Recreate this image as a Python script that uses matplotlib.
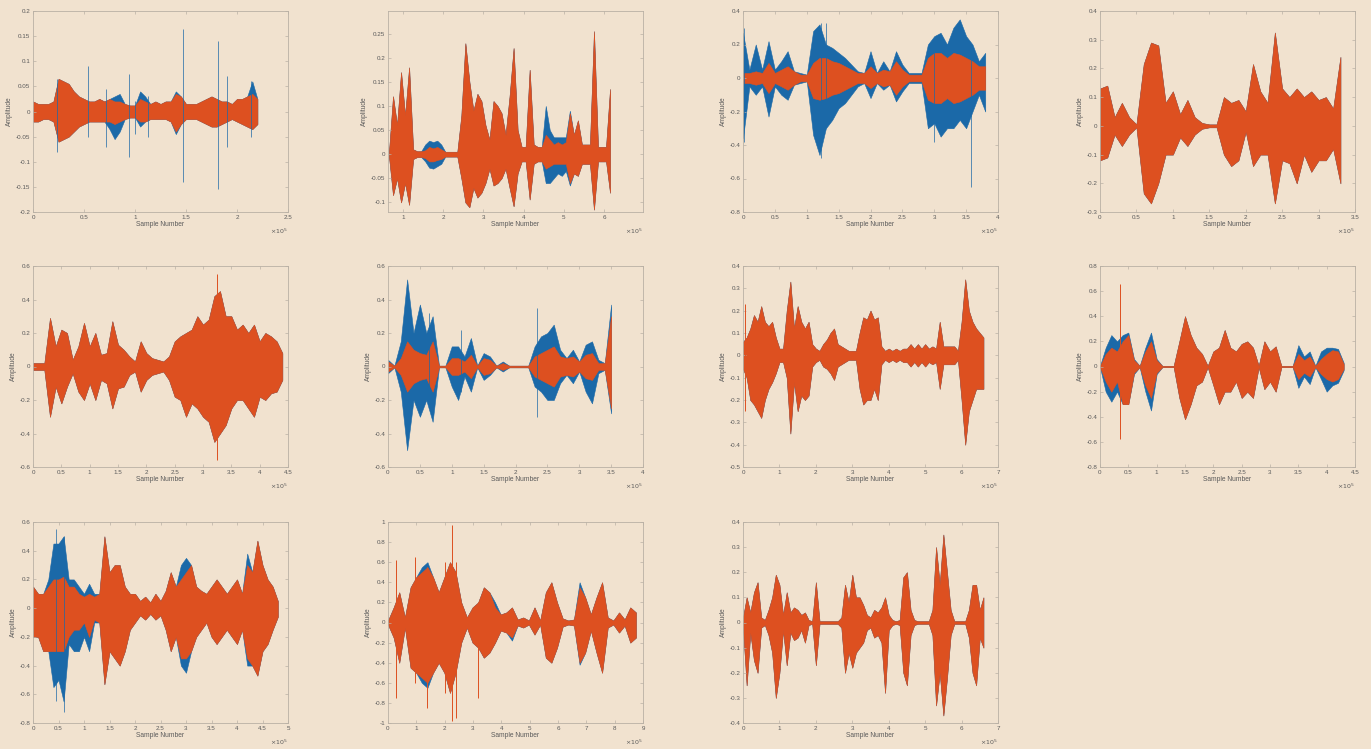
import numpy as np
import matplotlib
matplotlib.use('Agg')
import matplotlib.pyplot as plt

# envelopes: upper (hi) and lower magnitude (lo), x in 1e5 samples
span1 = (0, 2.2)
hi1 = [0.02, 0.015, 0.015, 0.015, 0.02, 0.065, 0.06, 0.055, 0.04, 0.03,
       0.025, 0.02, 0.02, 0.025, 0.02, 0.025, 0.02, 0.02, 0.015, 0.012,
       0.012, 0.025, 0.02, 0.015, 0.02, 0.015, 0.02, 0.02, 0.035, 0.03,
       0.015, 0.015, 0.015, 0.02, 0.025, 0.03, 0.025, 0.02, 0.02, 0.015,
       0.025, 0.025, 0.03, 0.035, 0.025]
lo1 = [0.02, 0.02, 0.015, 0.015, 0.02, 0.06, 0.055, 0.05, 0.04, 0.03,
       0.025, 0.02, 0.02, 0.02, 0.02, 0.02, 0.025, 0.02, 0.015, 0.012,
       0.012, 0.02, 0.02, 0.015, 0.015, 0.015, 0.015, 0.02, 0.04, 0.025,
       0.015, 0.015, 0.015, 0.02, 0.025, 0.03, 0.03, 0.025, 0.02, 0.015,
       0.02, 0.025, 0.03, 0.035, 0.025]
bhi1 = [0.02, 0.015, 0.015, 0.015, 0.02, 0.065, 0.06, 0.055, 0.04, 0.03,
        0.025, 0.02, 0.02, 0.025, 0.02, 0.025, 0.03, 0.035, 0.015, 0.012,
        0.012, 0.04, 0.03, 0.015, 0.02, 0.015, 0.02, 0.02, 0.04, 0.03,
        0.015, 0.015, 0.015, 0.02, 0.025, 0.03, 0.025, 0.02, 0.02, 0.015,
        0.025, 0.025, 0.03, 0.06, 0.025]
blo1 = [0.02, 0.02, 0.015, 0.015, 0.02, 0.06, 0.055, 0.05, 0.04, 0.03,
        0.025, 0.02, 0.02, 0.02, 0.02, 0.035, 0.055, 0.04, 0.015, 0.012,
        0.012, 0.03, 0.02, 0.015, 0.015, 0.015, 0.015, 0.02, 0.045, 0.025,
        0.015, 0.015, 0.015, 0.02, 0.025, 0.03, 0.03, 0.025, 0.02, 0.015,
        0.02, 0.025, 0.03, 0.035, 0.025]
spx1 = [0.24, 0.54, 0.72, 0.94, 1.0, 1.13, 1.47, 1.81, 1.9, 2.14]
sphi1 = [0.065, 0.09, 0.045, 0.075, 0.02, 0.03, 0.165, 0.14, 0.07, 0.06]
splo1 = [-0.08, -0.05, -0.07, -0.09, -0.045, -0.05, -0.14, -0.155, -0.07, -0.05]

span2 = (0.65, 6.15)
hi2 = [0.005, 0.12, 0.06, 0.17, 0.08, 0.18, 0.01, 0.006, 0.006, 0.008,
       0.015, 0.012, 0.015, 0.01, 0.005, 0.005, 0.005, 0.005, 0.08, 0.23,
       0.15, 0.09, 0.125, 0.11, 0.06, 0.03, 0.11, 0.1, 0.085, 0.04,
       0.12, 0.22, 0.05, 0.015, 0.015, 0.175, 0.02, 0.015, 0.015, 0.04,
       0.03, 0.02, 0.025, 0.02, 0.025, 0.085, 0.04, 0.07, 0.02, 0.02,
       0.02, 0.255, 0.015, 0.015, 0.015, 0.135]
lo2 = [0.005, 0.085, 0.05, 0.10, 0.06, 0.105, 0.01, 0.006, 0.006, 0.008,
       0.015, 0.015, 0.012, 0.01, 0.005, 0.005, 0.005, 0.005, 0.05, 0.1,
       0.11, 0.07, 0.09, 0.08, 0.06, 0.03, 0.065, 0.06, 0.05, 0.03,
       0.07, 0.108, 0.04, 0.015, 0.015, 0.094, 0.02, 0.015, 0.015, 0.03,
       0.025, 0.02, 0.02, 0.02, 0.02, 0.06, 0.04, 0.045, 0.02, 0.02,
       0.02, 0.115, 0.015, 0.015, 0.015, 0.08]
bhi2 = [0.005, 0.12, 0.06, 0.17, 0.08, 0.18, 0.01, 0.006, 0.006, 0.02,
        0.028, 0.025, 0.028, 0.02, 0.005, 0.005, 0.005, 0.005, 0.08, 0.23,
        0.15, 0.09, 0.125, 0.11, 0.06, 0.03, 0.11, 0.1, 0.085, 0.04,
        0.12, 0.22, 0.05, 0.015, 0.015, 0.175, 0.02, 0.015, 0.015, 0.1,
        0.05, 0.035, 0.035, 0.035, 0.035, 0.09, 0.04, 0.07, 0.02, 0.02,
        0.02, 0.255, 0.015, 0.015, 0.015, 0.135]
blo2 = [0.005, 0.085, 0.05, 0.10, 0.06, 0.105, 0.01, 0.006, 0.006, 0.015,
        0.028, 0.03, 0.025, 0.02, 0.005, 0.005, 0.005, 0.005, 0.05, 0.1,
        0.11, 0.07, 0.09, 0.08, 0.06, 0.03, 0.065, 0.06, 0.05, 0.03,
        0.07, 0.108, 0.04, 0.015, 0.015, 0.094, 0.02, 0.015, 0.015, 0.06,
        0.06, 0.05, 0.04, 0.045, 0.035, 0.065, 0.04, 0.045, 0.02, 0.02,
        0.02, 0.115, 0.015, 0.015, 0.015, 0.08]
spx2, sphi2, splo2 = [], [], []

span3 = (0, 3.8)
hi3 = [0.03, 0.03, 0.04, 0.03, 0.09, 0.03, 0.05, 0.07, 0.04, 0.02,
       0.02, 0.09, 0.12, 0.12, 0.1, 0.09, 0.07, 0.05, 0.03, 0.03,
       0.07, 0.03, 0.05, 0.04, 0.1, 0.05, 0.02, 0.02, 0.02, 0.12,
       0.15, 0.15, 0.12, 0.15, 0.14, 0.12, 0.1, 0.07, 0.07]
lo3 = [0.03, 0.03, 0.04, 0.03, 0.09, 0.03, 0.05, 0.07, 0.04, 0.02,
       0.02, 0.12, 0.13, 0.12, 0.1, 0.09, 0.07, 0.05, 0.03, 0.03,
       0.06, 0.03, 0.05, 0.04, 0.1, 0.05, 0.02, 0.02, 0.02, 0.13,
       0.15, 0.15, 0.12, 0.15, 0.14, 0.12, 0.1, 0.07, 0.07]
bhi3 = [0.27, 0.05, 0.2, 0.05, 0.22, 0.05, 0.1, 0.16, 0.04, 0.03,
        0.02, 0.28, 0.32, 0.2, 0.18, 0.15, 0.12, 0.08, 0.04, 0.03,
        0.16, 0.03, 0.1, 0.04, 0.16, 0.08, 0.03, 0.03, 0.03, 0.2,
        0.25, 0.27, 0.2, 0.3, 0.35, 0.25, 0.2, 0.1, 0.15]
blo3 = [0.36, 0.05, 0.1, 0.05, 0.23, 0.05, 0.1, 0.13, 0.04, 0.03,
        0.02, 0.34, 0.46, 0.3, 0.25, 0.18, 0.15, 0.1, 0.05, 0.03,
        0.12, 0.03, 0.07, 0.04, 0.14, 0.08, 0.03, 0.03, 0.03, 0.3,
        0.27, 0.35, 0.3, 0.3, 0.25, 0.3, 0.2, 0.1, 0.2]
spx3 = [0.02, 1.22, 1.3, 3.0, 3.57]
sphi3 = [0.3, 0.33, 0.33, 0.2, 0.2]
splo3 = [-0.38, -0.48, -0.3, -0.38, -0.65]

span4 = (0, 3.3)
hi4 = [0.13, 0.14, 0.03, 0.08, 0.03, 0.005, 0.215, 0.29, 0.28, 0.08,
       0.12, 0.04, 0.09, 0.03, 0.01, 0.005, 0.005, 0.1, 0.08, 0.09,
       0.05, 0.215, 0.12, 0.08, 0.325, 0.13, 0.1, 0.13, 0.1, 0.12,
       0.09, 0.1, 0.06, 0.24]
lo4 = [0.12, 0.11, 0.03, 0.07, 0.03, 0.005, 0.235, 0.27, 0.2, 0.1,
       0.1, 0.04, 0.07, 0.03, 0.01, 0.005, 0.005, 0.1, 0.14, 0.12,
       0.02, 0.14, 0.1, 0.1, 0.27, 0.12, 0.13, 0.2, 0.1, 0.16,
       0.12, 0.12, 0.08, 0.2]
bhi4, blo4 = hi4, lo4
spx4, sphi4, splo4 = [], [], []

span5 = (0, 4.4)
hi5 = [0.02, 0.02, 0.02, 0.29, 0.12, 0.22, 0.2, 0.04, 0.12, 0.26,
       0.12, 0.2, 0.07, 0.08, 0.27, 0.13, 0.1, 0.06, 0.03, 0.15,
       0.08, 0.05, 0.04, 0.03, 0.06, 0.15, 0.18, 0.2, 0.22, 0.3,
       0.25, 0.28, 0.42, 0.45, 0.3, 0.3, 0.22, 0.25, 0.2, 0.25,
       0.15, 0.2, 0.18, 0.15, 0.08]
lo5 = [0.02, 0.02, 0.02, 0.3, 0.12, 0.22, 0.12, 0.04, 0.15, 0.2,
       0.1, 0.2, 0.08, 0.1, 0.25, 0.13, 0.12, 0.05, 0.03, 0.15,
       0.08, 0.05, 0.04, 0.03, 0.08, 0.18, 0.2, 0.3, 0.22, 0.25,
       0.3, 0.33, 0.45, 0.4, 0.35, 0.25, 0.2, 0.2, 0.25, 0.3,
       0.18, 0.2, 0.16, 0.15, 0.08]
bhi5, blo5 = hi5, lo5
spx5, sphi5, splo5 = [3.25], [0.55], [-0.56]

span6 = (0, 3.5)
hi6 = [0.03, 0.005, 0.05, 0.15, 0.1, 0.08, 0.07, 0.15, 0.005, 0.005,
       0.05, 0.05, 0.03, 0.07, 0.005, 0.05, 0.04, 0.005, 0.02, 0.005,
       0.005, 0.005, 0.005, 0.06, 0.08, 0.1, 0.12, 0.06, 0.05, 0.06,
       0.03, 0.07, 0.08, 0.02, 0.02, 0.3]
lo6 = [0.03, 0.005, 0.05, 0.15, 0.1, 0.08, 0.07, 0.15, 0.005, 0.005,
       0.05, 0.05, 0.03, 0.07, 0.005, 0.05, 0.04, 0.005, 0.02, 0.005,
       0.005, 0.005, 0.005, 0.06, 0.08, 0.1, 0.12, 0.06, 0.05, 0.06,
       0.03, 0.07, 0.08, 0.02, 0.02, 0.25]
bhi6 = [0.04, 0.005, 0.15, 0.52, 0.2, 0.37, 0.2, 0.3, 0.005, 0.005,
        0.12, 0.12, 0.06, 0.17, 0.005, 0.08, 0.06, 0.005, 0.03, 0.005,
        0.005, 0.005, 0.005, 0.12, 0.18, 0.2, 0.25, 0.1, 0.05, 0.1,
        0.03, 0.13, 0.15, 0.04, 0.02, 0.37]
blo6 = [0.04, 0.005, 0.15, 0.5, 0.2, 0.3, 0.2, 0.33, 0.005, 0.005,
        0.12, 0.2, 0.06, 0.15, 0.005, 0.08, 0.05, 0.005, 0.03, 0.005,
        0.005, 0.005, 0.005, 0.12, 0.15, 0.2, 0.2, 0.1, 0.05, 0.1,
        0.03, 0.15, 0.22, 0.04, 0.02, 0.28]
spx6 = [0.65, 1.15, 2.33]
sphi6 = [0.32, 0.22, 0.35]
splo6 = [-0.25, -0.15, -0.3]

span7 = (0, 6.6)
hi7 = [0.06, 0.08, 0.12, 0.18, 0.15, 0.22, 0.15, 0.13, 0.15, 0.08,
       0.03, 0.03, 0.2, 0.33, 0.12, 0.22, 0.15, 0.12, 0.15, 0.05,
       0.03, 0.02, 0.05, 0.07, 0.1, 0.12, 0.05, 0.04, 0.03, 0.02,
       0.02, 0.02, 0.1, 0.17, 0.16, 0.2, 0.16, 0.17, 0.04, 0.02,
       0.03, 0.02, 0.03, 0.02, 0.03, 0.03, 0.05, 0.03, 0.05, 0.03,
       0.05, 0.03, 0.04, 0.03, 0.15, 0.04, 0.04, 0.04, 0.04, 0.02,
       0.15, 0.34, 0.2, 0.15, 0.12, 0.1, 0.08]
lo7 = [0.06, 0.1, 0.2, 0.22, 0.25, 0.28, 0.2, 0.15, 0.12, 0.08,
       0.03, 0.03, 0.1, 0.35, 0.12, 0.25, 0.18, 0.2, 0.18, 0.05,
       0.03, 0.02, 0.05, 0.06, 0.08, 0.11, 0.05, 0.04, 0.03, 0.02,
       0.02, 0.02, 0.15, 0.22, 0.2, 0.2, 0.15, 0.2, 0.04, 0.02,
       0.03, 0.02, 0.03, 0.02, 0.03, 0.03, 0.05, 0.03, 0.05, 0.03,
       0.05, 0.03, 0.04, 0.03, 0.15, 0.04, 0.04, 0.04, 0.04, 0.02,
       0.2, 0.4, 0.25, 0.2, 0.15, 0.15, 0.15]
bhi7, blo7 = hi7, lo7
spx7, sphi7, splo7 = [0.05], [0.23], [-0.25]

span8 = (0, 4.3)
hi8 = [0.005, 0.1, 0.15, 0.12, 0.2, 0.25, 0.05, 0.005, 0.12, 0.2,
       0.05, 0.005, 0.005, 0.005, 0.2, 0.4, 0.25, 0.15, 0.1, 0.005,
       0.12, 0.15, 0.29, 0.15, 0.12, 0.18, 0.2, 0.15, 0.005, 0.2,
       0.12, 0.16, 0.005, 0.005, 0.005, 0.1, 0.05, 0.08, 0.005, 0.06,
       0.1, 0.13, 0.12, 0.02]
lo8 = [0.005, 0.12, 0.2, 0.12, 0.3, 0.3, 0.05, 0.005, 0.15, 0.25,
       0.05, 0.005, 0.005, 0.005, 0.25, 0.42, 0.3, 0.15, 0.12, 0.005,
       0.15, 0.3, 0.2, 0.2, 0.12, 0.25, 0.2, 0.25, 0.005, 0.18,
       0.12, 0.2, 0.005, 0.005, 0.005, 0.1, 0.05, 0.08, 0.005, 0.06,
       0.1, 0.12, 0.1, 0.02]
bhi8 = [0.005, 0.15, 0.25, 0.2, 0.25, 0.27, 0.06, 0.005, 0.15, 0.27,
        0.06, 0.005, 0.005, 0.005, 0.2, 0.4, 0.25, 0.15, 0.1, 0.005,
        0.12, 0.15, 0.29, 0.15, 0.12, 0.18, 0.2, 0.15, 0.005, 0.2,
        0.12, 0.16, 0.005, 0.005, 0.005, 0.17, 0.08, 0.12, 0.005, 0.12,
        0.15, 0.15, 0.14, 0.03]
blo8 = [0.005, 0.2, 0.28, 0.2, 0.3, 0.3, 0.06, 0.005, 0.2, 0.35,
        0.06, 0.005, 0.005, 0.005, 0.25, 0.42, 0.3, 0.15, 0.12, 0.005,
        0.15, 0.3, 0.2, 0.2, 0.12, 0.25, 0.2, 0.25, 0.005, 0.18,
        0.12, 0.2, 0.005, 0.005, 0.005, 0.17, 0.08, 0.14, 0.005, 0.1,
        0.2, 0.15, 0.13, 0.03]
spx8, sphi8, splo8 = [0.35], [0.66], [-0.58]

span9 = (0, 4.8)
hi9 = [0.15, 0.1, 0.1, 0.15, 0.2, 0.2, 0.22, 0.15, 0.15, 0.1,
       0.08, 0.1, 0.08, 0.1, 0.5, 0.25, 0.3, 0.3, 0.15, 0.1,
       0.1, 0.05, 0.08, 0.04, 0.1, 0.05, 0.12, 0.25, 0.15, 0.2,
       0.25, 0.3, 0.15, 0.12, 0.1, 0.15, 0.2, 0.15, 0.1, 0.15,
       0.2, 0.1, 0.3, 0.25, 0.47, 0.3, 0.2, 0.15, 0.05]
lo9 = [0.2, 0.2, 0.3, 0.3, 0.3, 0.3, 0.3, 0.2, 0.15, 0.15,
       0.1, 0.2, 0.08, 0.1, 0.53, 0.3, 0.35, 0.4, 0.3, 0.15,
       0.1, 0.05, 0.08, 0.04, 0.08, 0.05, 0.15, 0.3, 0.2, 0.35,
       0.35, 0.3, 0.2, 0.15, 0.1, 0.2, 0.25, 0.2, 0.15, 0.2,
       0.25, 0.15, 0.35, 0.4, 0.47, 0.3, 0.25, 0.15, 0.06]
bhi9 = [0.15, 0.1, 0.1, 0.2, 0.45, 0.45, 0.5, 0.2, 0.2, 0.15,
        0.1, 0.17, 0.1, 0.1, 0.5, 0.25, 0.3, 0.3, 0.15, 0.1,
        0.1, 0.05, 0.08, 0.04, 0.1, 0.05, 0.12, 0.25, 0.15, 0.3,
        0.35, 0.3, 0.15, 0.12, 0.1, 0.15, 0.2, 0.15, 0.1, 0.15,
        0.2, 0.1, 0.38, 0.25, 0.47, 0.3, 0.2, 0.15, 0.05]
blo9 = [0.2, 0.2, 0.3, 0.3, 0.55, 0.5, 0.65, 0.25, 0.3, 0.3,
        0.2, 0.3, 0.1, 0.1, 0.53, 0.3, 0.35, 0.4, 0.3, 0.15,
        0.1, 0.05, 0.08, 0.04, 0.08, 0.05, 0.15, 0.3, 0.2, 0.4,
        0.45, 0.3, 0.2, 0.15, 0.1, 0.2, 0.25, 0.2, 0.15, 0.2,
        0.25, 0.15, 0.4, 0.4, 0.47, 0.3, 0.25, 0.15, 0.06]
spx9 = [0.45, 0.6]
sphi9 = [0.55, 0.5]
splo9 = [-0.65, -0.72]

span10 = (0, 8.75)
hi10 = [0.02, 0.15, 0.3, 0.05, 0.35, 0.45, 0.5, 0.55, 0.45, 0.3,
        0.45, 0.6, 0.5, 0.2, 0.05, 0.15, 0.2, 0.35, 0.3, 0.15,
        0.08, 0.1, 0.15, 0.03, 0.05, 0.02, 0.15, 0.02, 0.3, 0.4,
        0.2, 0.04, 0.02, 0.03, 0.35, 0.25, 0.08, 0.25, 0.4, 0.05,
        0.02, 0.1, 0.03, 0.15, 0.1]
lo10 = [0.02, 0.15, 0.4, 0.05, 0.45, 0.5, 0.55, 0.6, 0.5, 0.4,
        0.5, 0.7, 0.5, 0.2, 0.05, 0.2, 0.25, 0.35, 0.3, 0.2,
        0.08, 0.1, 0.15, 0.03, 0.05, 0.02, 0.12, 0.02, 0.35, 0.4,
        0.25, 0.04, 0.02, 0.03, 0.4, 0.3, 0.08, 0.3, 0.5, 0.05,
        0.02, 0.1, 0.03, 0.2, 0.15]
bhi10 = [0.02, 0.15, 0.3, 0.05, 0.35, 0.45, 0.55, 0.6, 0.45, 0.3,
         0.45, 0.6, 0.5, 0.2, 0.05, 0.15, 0.2, 0.35, 0.3, 0.2,
         0.08, 0.1, 0.15, 0.03, 0.05, 0.02, 0.15, 0.02, 0.3, 0.4,
         0.2, 0.04, 0.02, 0.03, 0.4, 0.25, 0.08, 0.25, 0.4, 0.05,
         0.02, 0.1, 0.03, 0.15, 0.1]
blo10 = [0.02, 0.15, 0.4, 0.05, 0.45, 0.5, 0.6, 0.65, 0.5, 0.4,
         0.5, 0.7, 0.5, 0.2, 0.05, 0.2, 0.25, 0.35, 0.3, 0.2,
         0.08, 0.1, 0.18, 0.03, 0.05, 0.02, 0.12, 0.02, 0.35, 0.4,
         0.25, 0.04, 0.02, 0.03, 0.42, 0.3, 0.08, 0.3, 0.5, 0.05,
         0.02, 0.1, 0.03, 0.2, 0.15]
spx10 = [0.27, 0.95, 1.38, 2.0, 2.27, 2.4, 3.18]
sphi10 = [0.62, 0.65, 0.55, 0.6, 0.97, 0.6, 0.2]
splo10 = [-0.75, -0.6, -0.85, -0.7, -0.98, -0.95, -0.75]

span11 = (0, 6.6)
hi11 = [0.02, 0.1, 0.04, 0.12, 0.16, 0.02, 0.01, 0.05, 0.1, 0.19,
        0.15, 0.03, 0.12, 0.04, 0.06, 0.05, 0.03, 0.04, 0.01, 0.005,
        0.16, 0.005, 0.005, 0.005, 0.005, 0.005, 0.005, 0.02, 0.15, 0.08,
        0.19, 0.1, 0.1, 0.07, 0.03, 0.02, 0.05, 0.04, 0.06, 0.1,
        0.03, 0.01, 0.005, 0.01, 0.18, 0.2, 0.05, 0.01, 0.005, 0.005,
        0.005, 0.005, 0.05, 0.3, 0.15, 0.35, 0.2, 0.05, 0.005, 0.005,
        0.005, 0.005, 0.05, 0.15, 0.15, 0.05, 0.1]
lo11 = [0.02, 0.25, 0.04, 0.15, 0.2, 0.02, 0.01, 0.05, 0.12, 0.3,
        0.2, 0.03, 0.17, 0.04, 0.07, 0.06, 0.03, 0.08, 0.01, 0.005,
        0.17, 0.005, 0.005, 0.005, 0.005, 0.005, 0.005, 0.02, 0.2, 0.12,
        0.18, 0.12, 0.1, 0.08, 0.03, 0.02, 0.06, 0.05, 0.08, 0.28,
        0.03, 0.01, 0.005, 0.01, 0.2, 0.25, 0.05, 0.01, 0.005, 0.005,
        0.005, 0.005, 0.05, 0.33, 0.2, 0.37, 0.22, 0.05, 0.005, 0.005,
        0.005, 0.005, 0.06, 0.2, 0.25, 0.06, 0.1]
bhi11, blo11 = hi11, lo11
spx11, sphi11, splo11 = [], [], []

# axis ranges as shown in each panel
xlims = [(0, 2.5), (0.625, 6.97), (0, 4), (0, 3.5), (0, 4.5), (0, 4),
         (0, 7), (0, 4.5), (0, 5), (0, 9), (0, 7)]
xsteps = [0.5, 1, 0.5, 0.5, 0.5, 0.5, 1, 0.5, 0.5, 1, 1]
ylims = [(-0.2, 0.2), (-0.12, 0.297), (-0.8, 0.4), (-0.3, 0.4), (-0.6, 0.6),
         (-0.6, 0.6), (-0.5, 0.4), (-0.8, 0.8), (-0.8, 0.6), (-1, 1), (-0.4, 0.4)]
ysteps = [0.05, 0.05, 0.2, 0.1, 0.2, 0.2, 0.1, 0.2, 0.2, 0.2, 0.1]

panels = [
    (span1, hi1, lo1, bhi1, blo1, spx1, sphi1, splo1),
    (span2, hi2, lo2, bhi2, blo2, spx2, sphi2, splo2),
    (span3, hi3, lo3, bhi3, blo3, spx3, sphi3, splo3),
    (span4, hi4, lo4, bhi4, blo4, spx4, sphi4, splo4),
    (span5, hi5, lo5, bhi5, blo5, spx5, sphi5, splo5),
    (span6, hi6, lo6, bhi6, blo6, spx6, sphi6, splo6),
    (span7, hi7, lo7, bhi7, blo7, spx7, sphi7, splo7),
    (span8, hi8, lo8, bhi8, blo8, spx8, sphi8, splo8),
    (span9, hi9, lo9, bhi9, blo9, spx9, sphi9, splo9),
    (span10, hi10, lo10, bhi10, blo10, spx10, sphi10, splo10),
    (span11, hi11, lo11, bhi11, blo11, spx11, sphi11, splo11),
]
blue_spikes = (0, 2, 5, 8)   # panels where the thin spikes belong to the blue channel

BG = '#f1e2cf'
BLUE = '#1b69a8'
ORANGE = '#dd5020'
EDGE = '#b9b0a4'
TXT = '#5a5a5a'

plt.rcParams['font.family'] = ['Liberation Sans', 'DejaVu Sans']

fig = plt.figure(figsize=(13.71, 7.49), dpi=100, facecolor=BG)
W, H = 1371, 749
col_left = [33, 388, 743, 1100]
row_top = [11, 266, 522]
aw, ah = 255, 201


def fmt(v):
    v = round(v, 4)
    if abs(v) < 1e-9:
        return '0'
    return ('%g' % v)


for i, (span, hi, lo, bhi, blo, spx, sphi, splo) in enumerate(panels):
    r, c = divmod(i, 4)
    ax = fig.add_axes([col_left[c] / W, 1 - (row_top[r] + ah) / H, aw / W, ah / H])
    ax.set_facecolor(BG)

    x = np.linspace(span[0], span[1], len(hi))
    ax.fill_between(x, bhi, -np.array(blo), color=BLUE, lw=0.4)
    if spx and i in blue_spikes:
        ax.vlines(spx, splo, sphi, color=BLUE, lw=0.5)
    ax.fill_between(x, hi, -np.array(lo), color=ORANGE, lw=0.4)
    if spx and i not in blue_spikes:
        ax.vlines(spx, splo, sphi, color=ORANGE, lw=0.7)

    ax.set_xlim(*xlims[i])
    ax.set_ylim(*ylims[i])
    xs = xsteps[i]
    xt = np.arange(np.ceil(xlims[i][0] / xs) * xs, xlims[i][1] + 1e-9, xs)
    ys = ysteps[i]
    yt = np.arange(np.ceil(ylims[i][0] / ys - 1e-9) * ys, ylims[i][1] + 1e-9, ys)
    ax.set_xticks(xt)
    ax.set_xticklabels([fmt(v) for v in xt])
    ax.set_yticks(yt)
    ax.set_yticklabels([fmt(v) for v in yt])

    ax.tick_params(direction='in', top=True, right=True, length=2.5, width=0.5,
                   color=EDGE, labelcolor=TXT, labelsize=4.5, pad=2)
    for s in ax.spines.values():
        s.set_color(EDGE)
        s.set_linewidth(0.6)

    ax.set_xlabel('Sample Number', fontsize=4.8, color=TXT, labelpad=1)
    ax.set_ylabel('Amplitude', fontsize=4.8, color=TXT, labelpad=2)
    ax.text(1.0, -0.075, r'$\times10^5$', transform=ax.transAxes, ha='right',
            va='top', fontsize=4.5, color=TXT)

fig.savefig('out.png', dpi=100, facecolor=BG)
